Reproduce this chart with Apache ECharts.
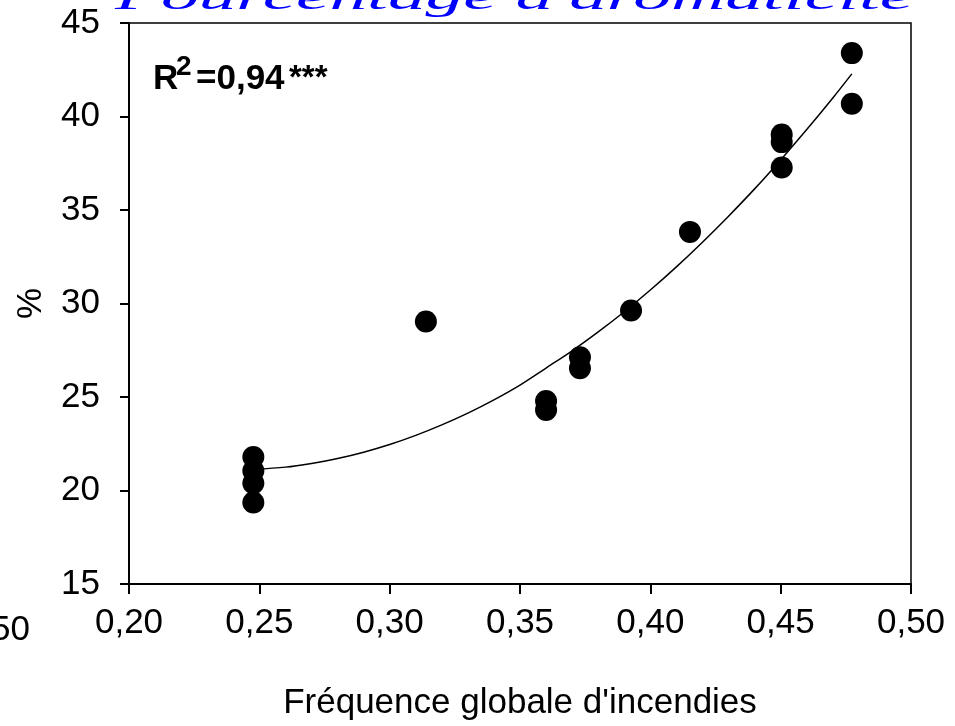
<!DOCTYPE html>
<html>
<head>
<meta charset="utf-8">
<script src="https://cdn.jsdelivr.net/npm/echarts@6/dist/echarts.min.js"></script>
<style>
html,body{margin:0;padding:0;background:#fff;}
#c{width:955px;height:726px;}
</style>
</head>
<body>
<div id="c"></div>
<script>
// ---- data ----
var xTickValues = [0.20, 0.25, 0.30, 0.35, 0.40, 0.45, 0.50];
var xTickLabels = ['0,20', '0,25', '0,30', '0,35', '0,40', '0,45', '0,50'];
var yTickLabels = ['15', '20', '25', '30', '35', '40', '45'];

var pointX = [0.2477, 0.2477, 0.2477, 0.2477, 0.3139, 0.3600, 0.3600, 0.3730, 0.3730, 0.3926, 0.4152, 0.4504, 0.4504, 0.4504, 0.4773, 0.4773];
var pointY = [21.79, 21.05, 20.39, 19.36, 29.04, 24.79, 24.31, 27.13, 26.54, 29.63, 33.83, 39.04, 38.63, 37.27, 43.39, 40.68];

// fitted curve
var fitX = [0.2477, 0.26, 0.27, 0.28, 0.29, 0.30, 0.31, 0.32, 0.33, 0.34, 0.35, 0.36, 0.37, 0.38, 0.39, 0.40, 0.41, 0.42, 0.43, 0.44, 0.45, 0.46, 0.47, 0.4773];
var fitY = [21.12, 21.25, 21.45, 21.71, 22.05, 22.46, 22.95, 23.51, 24.14, 24.85, 25.64, 26.55, 27.47, 28.48, 29.56, 30.72, 31.96, 33.28, 34.67, 36.13, 37.68, 39.30, 40.99, 42.28];

var titleText = "Pourcentage d'aromaticit\u00e9";
var xName = "Fr\u00e9quence globale d'incendies";
var yName = "%";

var scatterData = pointX.map(function (x, i) { return [x, pointY[i]]; });
var fitData = fitX.map(function (x, i) { return [x, fitY[i]]; });

var FONT = "'Liberation Sans', Arial, sans-serif";

var chart = echarts.init(document.getElementById('c'), null, {renderer: 'canvas'});
chart.setOption({
  backgroundColor: '#ffffff',
  animation: false,
  grid: {left: 129, right: 44, top: 23, bottom: 139, show: true, borderColor: '#000', borderWidth: 1.5, backgroundColor: 'transparent'},
  xAxis: {
    type: 'value', min: 0.2, max: 0.5, interval: 0.05,
    name: xName, nameLocation: 'middle', nameGap: 102,
    nameTextStyle: {fontFamily: FONT, fontSize: 35, color: '#000'},
    axisLine: {show: true, lineStyle: {color: '#000', width: 2}},
    axisTick: {show: true, inside: false, length: 10, lineStyle: {color: '#000', width: 2}},
    axisLabel: {
      fontFamily: FONT, fontSize: 35, color: '#000', margin: 22,
      formatter: function (v) {
        for (var i = 0; i < xTickValues.length; i++) {
          if (Math.abs(xTickValues[i] - v) < 1e-6) return xTickLabels[i];
        }
        return '';
      }
    },
    splitLine: {show: false}
  },
  yAxis: {
    type: 'value', min: 15, max: 45, interval: 5,
    name: yName, nameLocation: 'middle', nameGap: 80, nameRotate: 90,
    nameTextStyle: {fontFamily: FONT, fontSize: 35, color: '#000'},
    axisLine: {show: true, lineStyle: {color: '#000', width: 2}},
    axisTick: {show: true, inside: false, length: 9, lineStyle: {color: '#000', width: 2}},
    axisLabel: {
      fontFamily: FONT, fontSize: 35, color: '#000', margin: 29,
      formatter: function (v) {
        var i = Math.round((v - 15) / 5);
        return yTickLabels[i] !== undefined ? yTickLabels[i] : '';
      }
    },
    splitLine: {show: false}
  },
  series: [
    {
      type: 'line', data: fitData, smooth: 0.3, showSymbol: false, symbol: 'none',
      lineStyle: {color: '#000', width: 1.5}, z: 2
    },
    {
      type: 'scatter', data: scatterData, symbol: 'circle', symbolSize: 22,
      itemStyle: {color: '#000', opacity: 1}, z: 3
    }
  ],
  graphic: [
    {
      type: 'text', x: 115, y: 0, scaleX: 2.09, scaleY: 1, z: 10,
      style: {text: titleText, x: 0, y: 0, fill: '#0000ff', font: "italic 36px 'Liberation Serif', 'Times New Roman', serif", textAlign: 'left', textVerticalAlign: 'middle'}
    },
    {
      type: 'text', x: 0, y: 0, z: 10,
      style: {text: 'R', x: 153, y: 79, fill: '#000', font: "bold 35px " + FONT, textAlign: 'left', textVerticalAlign: 'middle'}
    },
    {
      type: 'text', x: 0, y: 0, z: 10,
      style: {text: '2', x: 176, y: 67, fill: '#000', font: "bold 28px " + FONT, textAlign: 'left', textVerticalAlign: 'middle'}
    },
    {
      type: 'text', x: 0, y: 0, z: 10,
      style: {text: '=0,94', x: 196, y: 79, fill: '#000', font: "bold 35px " + FONT, textAlign: 'left', textVerticalAlign: 'middle'}
    },
    {
      type: 'text', x: 0, y: 0, z: 10,
      style: {text: '***', x: 289, y: 79, fill: '#000', font: "bold 33px " + FONT, textAlign: 'left', textVerticalAlign: 'middle'}
    },
    {
      type: 'text', x: 0, y: 0, z: 10,
      style: {text: '50', x: 30, y: 630, fill: '#000', font: "35px " + FONT, textAlign: 'right', textVerticalAlign: 'middle'}
    }
  ]
});
</script>
</body>
</html>
